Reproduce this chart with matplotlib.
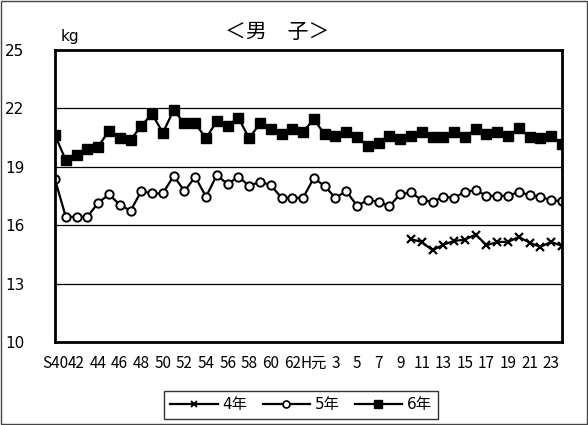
import matplotlib.pyplot as plt
import numpy as np
from matplotlib.lines import Line2D
from matplotlib.patches import Rectangle

plt.rcParams["font.family"] = ["DejaVu Sans", "Noto Sans CJK JP"]

# S40 .. S63, H元 .. H24 (one point per year)
n_years = 48
tick_labels = ["S40", "42", "44", "46", "48", "50", "52", "54", "56", "58", "60", "62",
               "H元", "3", "5", "7", "9", "11", "13", "15", "17", "19", "21", "23"]

grade6 = [20.63, 19.34, 19.63, 19.94, 20.03, 20.85, 20.46, 20.37, 21.11, 21.71, 20.75, 21.91,
          21.23, 21.23, 20.46, 21.35, 21.09, 21.52, 20.46, 21.23, 20.92, 20.71, 20.92, 20.80,
          21.45, 20.66, 20.59, 20.77, 20.51, 20.08, 20.20, 20.59, 20.42, 20.59, 20.80, 20.54,
          20.54, 20.80, 20.54, 20.94, 20.71, 20.80, 20.59, 20.97, 20.54, 20.49, 20.59, 20.15]
grade5 = [18.35, 16.43, 16.43, 16.43, 17.15, 17.58, 17.06, 16.74, 17.75, 17.63, 17.63, 18.54,
          17.75, 18.49, 17.46, 18.57, 18.11, 18.49, 18.02, 18.23, 18.06, 17.41, 17.41, 17.41,
          18.43, 18.00, 17.41, 17.75, 17.00, 17.29, 17.20, 16.98, 17.59, 17.68, 17.29, 17.20,
          17.46, 17.41, 17.71, 17.80, 17.51, 17.51, 17.51, 17.71, 17.54, 17.46, 17.29, 17.23]
# 4年 only measured from H10
grade4 = [np.nan] * 33 + [15.28, 15.14, 14.71, 15.00, 15.19, 15.26, 15.52, 14.97, 15.14,
                          15.14, 15.40, 15.10, 14.89, 15.14, 14.94]

W, H = 588, 425
fig = plt.figure(figsize=(W / 100, H / 100), dpi=100)
ax = fig.add_axes([55 / W, 1 - 342 / H, (562 - 55) / W, (342 - 50) / H])

x = np.arange(n_years)
ax.plot(x, grade4, color="black", lw=1.6, marker="x", ms=6, mew=1.6, label="4年")
ax.plot(x, grade5, color="black", lw=1.6, marker="o", ms=6, mfc="white", mec="black",
        mew=1.4, label="5年")
ax.plot(x, grade6, color="black", lw=1.6, marker="s", ms=7, mfc="black", mec="black",
        label="6年")

ax.set_xlim(0, n_years - 1)
ax.set_ylim(10, 25)
ax.set_yticks([10, 13, 16, 19, 22, 25])
ax.yaxis.grid(True, color="black", lw=0.9)
ax.set_axisbelow(True)
ax.tick_params(axis="y", length=0, pad=22, labelsize=11)

ax.set_xticks(np.arange(0, n_years, 2))
ax.set_xticklabels(tick_labels, family=["Liberation Sans Narrow", "Noto Sans CJK JP"])
ax.set_xticks(np.arange(0, n_years - 2, 4), minor=True)
ax.tick_params(axis="x", which="major", length=0, pad=9, labelsize=11)
ax.tick_params(axis="x", which="minor", direction="in", length=5, width=1)

for s in ax.spines.values():
    s.set_linewidth(2)

fig.text(277 / W, 1 - 32 / H, "＜男　子＞", ha="center", va="center", fontsize=15,
         family=["Noto Sans CJK JP"])
fig.text(70 / W, 1 - 37 / H, "kg", ha="center", va="center", fontsize=11)

handles = [
    Line2D([], [], color="black", lw=1.6, marker="x", ms=5, mew=1.4),
    Line2D([], [], color="black", lw=1.6, marker="o", ms=5, mfc="white", mew=1.2),
    Line2D([], [], color="black", lw=1.6, marker="s", ms=5.5),
]
leg = fig.legend(handles, ["4年", "5年", "6年"], loc="center",
                 bbox_to_anchor=(301 / W, 1 - 405 / H), ncol=3, fontsize=11,
                 frameon=True, fancybox=False, edgecolor="black", handlelength=3.1,
                 handletextpad=0.3, columnspacing=1.0, borderpad=0.45,
                 prop={"family": ["DejaVu Sans", "Noto Sans CJK JP"], "size": 11})
leg.get_frame().set_linewidth(1)

fig.patches.append(Rectangle((0.002, 0.002), 0.996, 0.995, transform=fig.transFigure,
                             fill=False, lw=1, ec="#444444"))

fig.savefig("out.png", dpi=100)
